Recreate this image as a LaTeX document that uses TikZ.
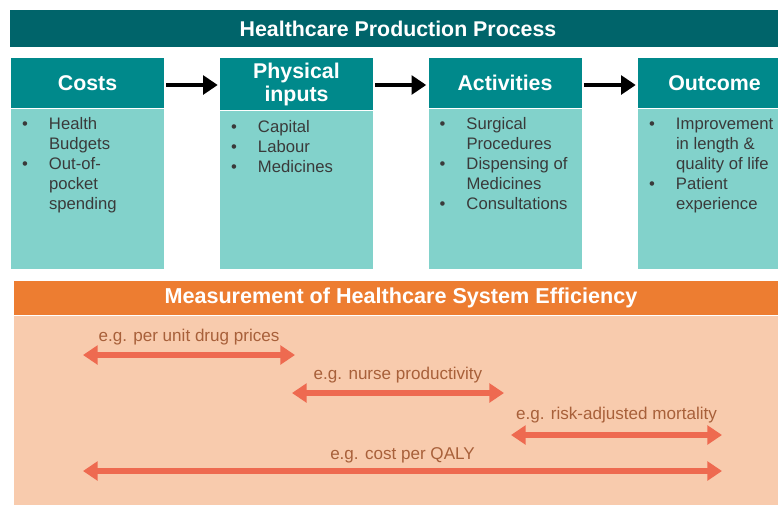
\documentclass[tikz,border=0pt]{standalone}
\usepackage{fontspec}
\setmainfont{Liberation Sans}
\usetikzlibrary{arrows.meta, positioning}
\definecolor{bannerteal}{HTML}{00646A}
\definecolor{headteal}{HTML}{00898B}
\definecolor{bodyteal}{HTML}{82D2CB}
\definecolor{measorange}{HTML}{ED7D31}
\definecolor{measpeach}{HTML}{F8CBAD}
\definecolor{arrowred}{HTML}{EE6A50}
\definecolor{labelbrown}{HTML}{A8603A}
\definecolor{bodytext}{HTML}{3A3A3A}

% bullet list set as a two column table
\newcommand{\bullist}[1]{\begin{tabular}{@{}p{20.25pt}@{}l@{}}#1\end{tabular}}

\begin{document}
\begin{tikzpicture}[x=0.75pt, y=-0.75pt, >=Stealth,
    banner/.style={fill=bannerteal, minimum width=576pt, minimum height=27.75pt, inner sep=0pt},
    banner text/.style={text=white, inner sep=0pt, font=\fontsize{16}{17}\selectfont\bfseries},
    box head/.style={fill=headteal, text=white, minimum width=114.75pt, minimum height=37.5pt,
        inner sep=0pt, align=center, font=\fontsize{16}{17.25}\selectfont\bfseries},
    box body/.style={fill=bodyteal, minimum width=114.75pt, minimum height=120pt, inner sep=0pt},
    box list/.style={inner sep=0pt, text=bodytext, font=\fontsize{12.5}{15}\selectfont},
    meas head/.style={fill=measorange, minimum width=573pt, minimum height=25.5pt, inner sep=0pt},
    meas body/.style={fill=measpeach, minimum width=573pt, minimum height=141.75pt, inner sep=0pt},
    flow/.style={-{Triangle[length=11pt, width=14pt]}, line width=3.5pt, black,
        shorten <=1.5pt, shorten >=1.5pt},
    twoway/.style={{Triangle[length=11pt, width=14pt]}-{Triangle[length=11pt, width=14pt]},
        line width=4.5pt, arrowred},
    eg/.style={text=labelbrown, font=\fontsize{12.8}{14}\selectfont, inner sep=0pt}]

    \useasboundingbox (0,0) rectangle (778,504);
    \clip (0,0) rectangle (778,504);

    % top banner
    \node[banner] (process) at (394,28.5) {};
    \node[banner text] (process title) at (398,29) {Healthcare Production Process};

    % the four stages
    \node[box head] (costs) at (87.5,83) {Costs};
    \node[box head, minimum height=39pt] (inputs) at (296.5,84) {Physical\\inputs};
    \node[box head] (activities) at (505,83) {Activities};
    \node[box head] (outcome) at (714.5,83) {Outcome};

    \node[box body, below=0pt of costs] (costs body) {};
    \node[box body, minimum height=118.5pt, below=0pt of inputs] (inputs body) {};
    \node[box body, below=0pt of activities] (activities body) {};
    \node[box body, below=0pt of outcome] (outcome body) {};

    \node[box list, below right=5.5pt and 8.25pt of costs body.north west] (costs list)
        {\bullist{\textbullet & Health\\ & Budgets\\ \textbullet & Out-of-\\ & pocket\\ & spending}};
    \node[box list, below right=6pt and 8.25pt of inputs body.north west] (inputs list)
        {\bullist{\textbullet & Capital\\ \textbullet & Labour\\ \textbullet & Medicines}};
    \node[box list, below right=5.5pt and 8.25pt of activities body.north west] (activities list)
        {\bullist{\textbullet & Surgical\\ & Procedures\\ \textbullet & Dispensing of\\ & Medicines\\ \textbullet & Consultations}};
    \node[box list, below right=5.5pt and 8.25pt of outcome body.north west] (outcome list)
        {\bullist{\textbullet & Improvement\\ & in length \&\\ & quality of life\\ \textbullet & Patient\\ & experience}};

    \draw[flow] ([yshift=-1.5pt]costs.east) -- ([yshift=-1.5pt]costs.east -| inputs.west);
    \draw[flow] ([yshift=-1.5pt]activities.west -| inputs.east) -- ([yshift=-1.5pt]activities.west);
    \draw[flow] ([yshift=-1.5pt]activities.east) -- ([yshift=-1.5pt]outcome.west);

    % efficiency measurement panel
    \node[meas head] (measure) at (396,298) {};
    \node[banner text, font=\fontsize{16.2}{17}\selectfont\bfseries] (measure title)
        at (401,298) {Measurement of Healthcare System Efficiency};
    \node[meas body, below=0pt of measure] (measure body) {};

    \coordinate (drug l) at (83,355);
    \coordinate (drug r) at (295,355);
    \coordinate (nurse l) at (292,393);
    \coordinate (nurse r) at (504,393);
    \coordinate (risk l) at (511,435);
    \coordinate (risk r) at (722,435);
    \coordinate (qaly l) at (83,471);
    \coordinate (qaly r) at (722,471);

    \draw[twoway] (drug l) -- node[eg, above=5pt] (drug) {e.g. per unit drug prices} (drug r);
    \draw[twoway] (nurse l) -- node[eg, above=5pt] (nurse) {e.g. nurse productivity} (nurse r);
    \draw[twoway] (risk l) -- node[eg, above=7pt] (risk) {e.g. risk-adjusted mortality} (risk r);
    \draw[twoway] (qaly l) -- node[eg, above=4pt] (qaly) {e.g. cost per QALY} (qaly r);

\end{tikzpicture}
\end{document}
